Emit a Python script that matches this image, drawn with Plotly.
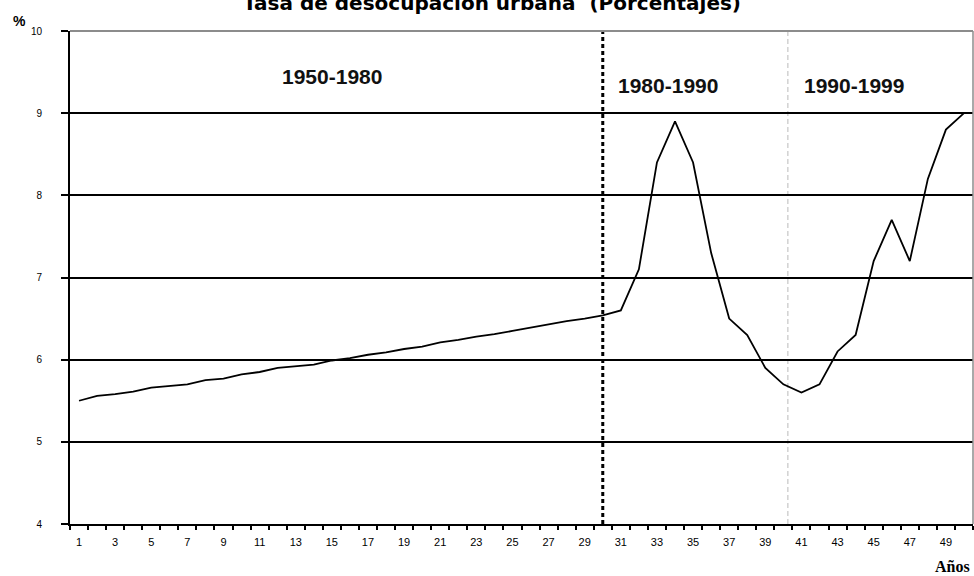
import plotly.graph_objects as go

# Data
years = list(range(1, 51))
rate = [5.50, 5.56, 5.58, 5.61, 5.66, 5.68, 5.70, 5.75, 5.77, 5.82,
        5.85, 5.90, 5.92, 5.94, 5.99, 6.02, 6.06, 6.09, 6.13, 6.16,
        6.21, 6.24, 6.28, 6.31, 6.35, 6.39, 6.43, 6.47, 6.50, 6.54,
        6.60, 7.10, 8.40, 8.90, 8.40, 7.30, 6.50, 6.30, 5.90, 5.70,
        5.60, 5.70, 6.10, 6.30, 7.20, 7.70, 7.20, 8.20, 8.80, 9.00]
x_ticks = list(range(1, 50, 2))
y_ticks = [4, 5, 6, 7, 8, 9, 10]
period_labels = ["1950-1980", "1980-1990", "1990-1999"]
period_x = [15.0, 33.6, 43.9]
period_y = [9.45, 9.34, 9.34]
break_main = 30
break_minor = 40.25

fig = go.Figure()

fig.add_trace(go.Scatter(
    x=years, y=rate, mode="lines",
    line=dict(color="black", width=1.8),
    showlegend=False, hoverinfo="skip"
))

# period separators
fig.add_vline(x=break_main, line=dict(color="black", width=3, dash="4px,3px"), layer="above")
fig.add_vline(x=break_minor, line=dict(color="#bbbbbb", width=1, dash="5px,3px"), layer="below")

# grey plot area frame (top and right)
fig.add_shape(type="line", xref="paper", yref="paper", x0=0, x1=1, y0=1, y1=1,
              line=dict(color="#8c8c8c", width=2))
fig.add_shape(type="line", xref="paper", yref="paper", x0=1, x1=1, y0=0, y1=1,
              line=dict(color="#8c8c8c", width=1.5))

for lab, px_, py_ in zip(period_labels, period_x, period_y):
    fig.add_annotation(x=px_, y=py_, text="<b>" + lab + "</b>", showarrow=False,
                       font=dict(family="Liberation Sans, Arial", size=21, color="#111"))

fig.add_annotation(xref="paper", yref="paper", x=0.467, y=1, yshift=14, yanchor="bottom",
                   text="<b>Tasa de desocupación urbana  (Porcentajes)</b>", showarrow=False,
                   font=dict(family="DejaVu Sans", size=20, color="black"))
fig.add_annotation(xref="paper", yref="paper", x=0, xanchor="center", xshift=-51,
                   y=1, yanchor="middle", yshift=10,
                   text="<b>%</b>", showarrow=False,
                   font=dict(family="Liberation Sans, Arial", size=14, color="black"))
fig.add_annotation(xref="paper", yref="paper", x=1, xanchor="right", xshift=-1,
                   y=0, yanchor="middle", yshift=-42,
                   text="<b>Años</b>", showarrow=False,
                   font=dict(family="Liberation Serif, Times New Roman", size=16, color="black"))

fig.update_layout(
    width=974, height=576,
    margin=dict(l=70, r=1, t=31, b=52),
    paper_bgcolor="white", plot_bgcolor="white",
    font=dict(family="Liberation Sans, Arial", size=10, color="black"),
    xaxis=dict(
        range=[0.5, 50.5], tickmode="array", tickvals=x_ticks,
        showgrid=False, zeroline=False, showline=True, linecolor="black", linewidth=2,
        ticks="", ticklabelstandoff=7, tickfont=dict(size=11),
        minor=dict(tickmode="linear", tick0=0.5, dtick=1, ticks="outside",
                   ticklen=4, tickwidth=1.5, tickcolor="black", showgrid=False),
    ),
    yaxis=dict(
        range=[4, 10], tickmode="array", tickvals=y_ticks,
        showgrid=True, gridcolor="black", gridwidth=2, zeroline=False,
        showline=True, linecolor="black", linewidth=2,
        ticks="outside", ticklen=7, tickwidth=1.5, tickcolor="black",
        ticklabelstandoff=17,
    ),
)

# page margin off so the 974x576 figure fills the window exactly
fig.write_html("out.html", config={"displayModeBar": False},
               post_script="document.body.style.margin='0';document.body.style.overflow='hidden';")
